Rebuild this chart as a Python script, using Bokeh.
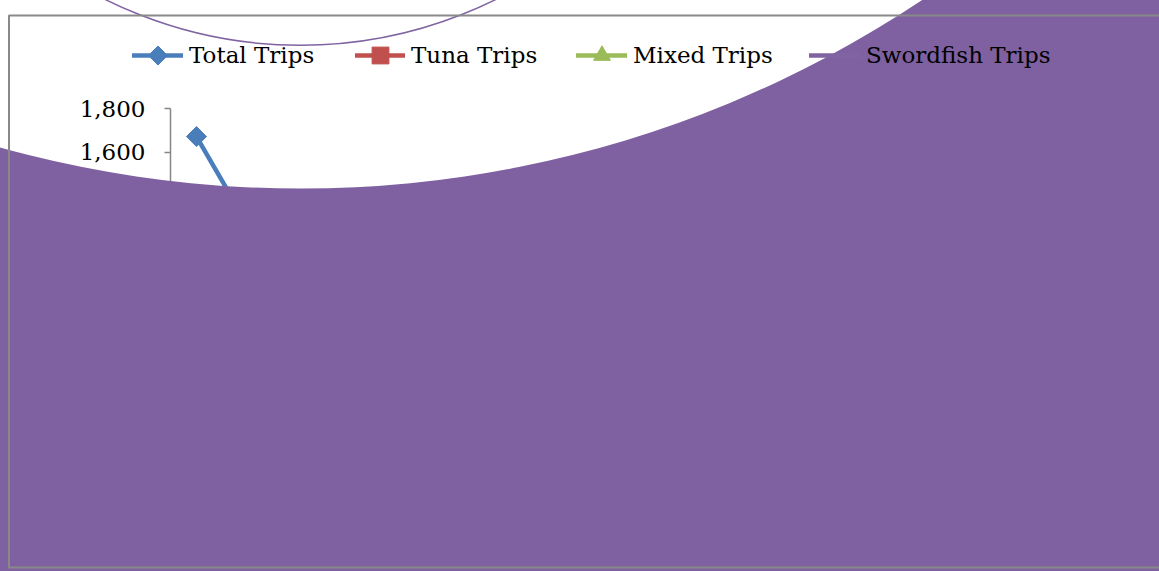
from bokeh.embed import file_html
from bokeh.models import (BoxAnnotation, CustomJS, FixedTicker, Legend,
                          LegendItem, LinearAxis, NumeralTickFormatter, Range1d)
from bokeh.plotting import figure
from bokeh.resources import INLINE

# ---- data -----------------------------------------------------------------
years = list(range(1991, 2009))
total_trips = [1672, 1258, 1120, 1035, 980, 910, 870, 820, 790, 760,
               705, 680, 640, 610, 575, 540, 520, 500]
tuna_trips = [620, 540, 480, 455, 410, 395, 380, 350, 330, 300,
              290, 270, 250, 240, 225, 210, 205, 190]
mixed_trips = [610, 420, 390, 360, 350, 320, 300, 290, 280, 275,
               250, 245, 230, 220, 205, 190, 180, 175]
swordfish_trips = [442, 298, 250, 220, 220, 195, 190, 180, 180, 185,
                   165, 165, 160, 150, 145, 140, 135, 135]
y_ticks = [0, 200, 400, 600, 800, 1000, 1200, 1400, 1600, 1800]

series_labels = ["Total Trips", "Tuna Trips", "Mixed Trips", "Swordfish Trips"]

# ---- styling --------------------------------------------------------------
BLUE = "#4A7EBB"
RED = "#C0504D"
GREEN = "#9BBB59"
PURPLE = "#8064A2"
PURPLE_FILL = "#7F60A0"
AXIS_GRAY = "#868686"
FONT = "DejaVu Serif"
FONT_SIZE = "23px"

W, H = 1159, 571

p = figure(width=W, height=H, output_backend="svg", toolbar_location=None,
           x_range=Range1d(1987.231, 2009.519), y_range=Range1d(-335, 2300),
           x_axis_location=None, y_axis_location=None,
           min_border=0, outline_line_color=None,
           background_fill_color="white", border_fill_color="white")
for g in p.grid:
    g.visible = False

# value axis, drawn inside the chart area
yaxis = LinearAxis(fixed_location=1990.5, bounds=(0, 1800),
                   ticker=FixedTicker(ticks=y_ticks),
                   formatter=NumeralTickFormatter(format="0,0"),
                   major_tick_in=0, major_tick_out=6,
                   minor_tick_line_color=None,
                   axis_line_color=AXIS_GRAY, axis_line_width=1.5,
                   major_tick_line_color=AXIS_GRAY, major_tick_line_width=1.5,
                   major_label_text_font=FONT,
                   major_label_text_font_size=FONT_SIZE,
                   major_label_text_color="black",
                   major_label_standoff=19, level="guide")
p.add_layout(yaxis, "left")

# square-proportioned diamond marker (same look in plot and legend)
wide_diamond = CustomJS(code="""
export default (args, obj, {ctx, i, r, visuals}) => {
  const d = r * 1.4
  ctx.moveTo(0, -d)
  ctx.lineTo(d, 0)
  ctx.lineTo(0, d)
  ctx.lineTo(-d, 0)
  ctx.closePath()
  visuals.fill.apply(ctx, i)
  visuals.line.apply(ctx, i)
}
""")

# ---- series -----------------------------------------------------------------
total_line = p.line(years, total_trips, line_color=BLUE, line_width=4.5,
                    line_cap="round", line_join="round")
total_pts = p.scatter(years, total_trips, marker="@wide_diamond",
                      defs={"@wide_diamond": wide_diamond},
                      size=14.3, fill_color=BLUE, line_color=BLUE)

tuna_line = p.line(years, tuna_trips, line_color=RED, line_width=4.5,
                   line_cap="round", line_join="round")
tuna_pts = p.scatter(years, tuna_trips, marker="square", size=12,
                     fill_color=RED, line_color=RED)

mixed_line = p.line(years, mixed_trips, line_color=GREEN, line_width=4.5,
                    line_cap="round", line_join="round")
mixed_pts = p.scatter(years, mixed_trips, marker="triangle", size=13,
                      fill_color=GREEN, line_color=GREEN)

sword_line = p.line(years, swordfish_trips, line_color=PURPLE, line_width=4.5,
                    line_cap="round", line_join="round")

# oversized swordfish marker that spills over the chart
p.annulus(x=[1993], y=[6596], inner_radius=1119, outer_radius=2600,
          inner_radius_units="screen", outer_radius_units="screen",
          fill_color=PURPLE_FILL, line_color=None, level="annotation")
p.circle(x=[1993], y=[4116], radius=438.5, radius_units="screen",
         fill_color=None, line_color=PURPLE, line_width=1.5, level="annotation")

# chart area border
p.add_layout(BoxAnnotation(left=8.5, right=1400, top=H - 15, bottom=H - 567,
                           left_units="screen", right_units="screen",
                           top_units="screen", bottom_units="screen",
                           fill_color=None, line_color="#898989",
                           line_alpha=1.0, line_width=2, level="overlay"))

# ---- legend (one entry per box so each glyph keeps its own size) -----------
legend_y = 55
entries = [
    (series_labels[0], [total_line, total_pts], 132, 51, 34),
    (series_labels[1], [tuna_line, tuna_pts], 355, 50, 42),
    (series_labels[2], [mixed_line, mixed_pts], 576, 51, 42),
    (series_labels[3], [sword_line], 809, 51, 34),
]
for label, rends, x0, gw, gh in entries:
    leg = Legend(items=[LegendItem(label=label, renderers=rends)],
                 location=(x0, H - legend_y - gh / 2),
                 orientation="horizontal",
                 glyph_width=gw, glyph_height=gh, label_standoff=6,
                 padding=0, margin=0, spacing=0,
                 border_line_color=None, background_fill_alpha=0,
                 label_text_font=FONT, label_text_font_size=FONT_SIZE,
                 label_text_color="black", level="overlay")
    p.add_layout(leg)

open("out.html", "w").write(file_html(p, INLINE))
